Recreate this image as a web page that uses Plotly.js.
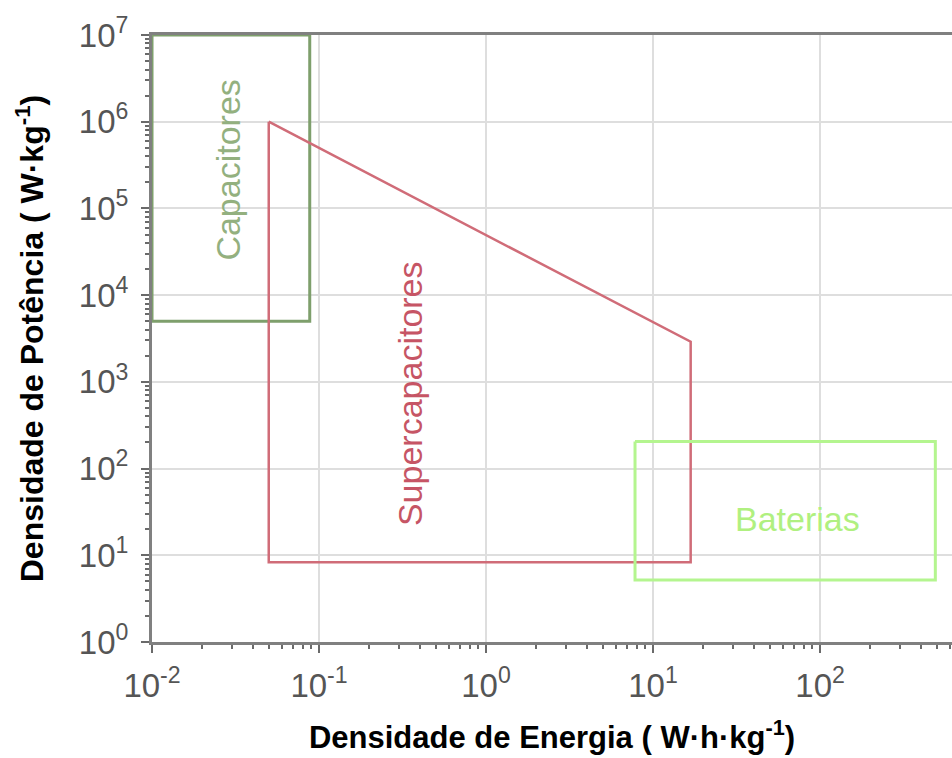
<!DOCTYPE html>
<html><head><meta charset="utf-8">
<script src="https://cdn.plot.ly/plotly-3.0.1.min.js"></script>
<style>html,body{margin:0;padding:0;background:#fff}#chart{width:952px;height:758px}</style>
</head><body><div id="chart"></div>
<script>
// Region outlines (energy density W·h/kg, power density W/kg)
const capX = [0.01, 0.088, 0.088, 0.01, 0.01];
const capY = [1e7, 1e7, 5000, 5000, 1e7];
const supX = [0.05, 16.8, 16.8, 0.05, 0.05];
const supY = [1e6, 2900, 8.3, 8.3, 1e6];
const batX = [7.8, 490, 490, 7.8, 7.8];
const batY = [205, 205, 5.2, 5.2, 205];

const labelNames = ["Capacitores", "Supercapacitores", "Baterias"];
const labelX = [0.0285, 0.35, 73];
const labelY = [2.8e5, 740, 26];

const xTickVals = [0.01, 0.1, 1, 10, 100];
const xTickText = ["10<sup>-2</sup>", "10<sup>-1</sup>", "10<sup>0</sup>", "10<sup>1</sup>", "10<sup>2</sup>"];
const yTickVals = [1, 10, 100, 1000, 1e4, 1e5, 1e6, 1e7];
const yTickText = ["10<sup>0</sup>", "10<sup>1</sup>", "10<sup>2</sup>", "10<sup>3</sup>", "10<sup>4</sup>", "10<sup>5</sup>", "10<sup>6</sup>", "10<sup>7</sup>"];

const colors = ["#7e9f6c", "#d06c78", "#b4f58f"];
const textColors = ["#93b07f", "#c65565", "#b0f080"];

const traces = [
  {x: capX, y: capY, mode: "lines", line: {color: colors[0], width: 3}, hoverinfo: "skip"},
  {x: supX, y: supY, mode: "lines", line: {color: colors[1], width: 2.5}, hoverinfo: "skip"},
  {x: batX, y: batY, mode: "lines", line: {color: colors[2], width: 3}, hoverinfo: "skip"}
];

const annotations = labelNames.map((t, i) => ({
  x: Math.log10(labelX[i]), y: Math.log10(labelY[i]), xref: "x", yref: "y",
  text: t, showarrow: false, textangle: i === 2 ? 0 : -90,
  font: {family: "Liberation Sans, Arial, sans-serif", size: 34, color: textColors[i]}
}));

const axisCommon = {
  type: "log", showline: true, linecolor: "#808080", linewidth: 3,
  showgrid: true, gridcolor: "#dedede", gridwidth: 2,
  ticks: "outside", ticklen: 8, tickwidth: 2, tickcolor: "#6a6a6a",
  tickmode: "array",
  tickfont: {family: "Liberation Sans, Arial, sans-serif", size: 33, color: "#555"},
  minor: {ticks: "outside", ticklen: 4, tickwidth: 2, tickcolor: "#6a6a6a", dtick: "D1", showgrid: false},
  zeroline: false
};

const layout = {
  width: 952, height: 758,
  margin: {l: 152, r: 0, t: 35, b: 116},
  paper_bgcolor: "#fff", plot_bgcolor: "#fff",
  showlegend: false,
  xaxis: Object.assign({}, axisCommon, {
    range: [-2, 2.79], tickvals: xTickVals, ticktext: xTickText, mirror: true,
    ticklabelstandoff: 4,
    title: {text: "Densidade de Energia ( W·h·kg<sup>-1</sup>)", standoff: 24,
      font: {family: "Liberation Sans, Arial, sans-serif", size: 31, color: "#000", weight: "bold"}}
  }),
  yaxis: Object.assign({}, axisCommon, {
    range: [0, 7], tickvals: yTickVals, ticktext: yTickText,
    ticklabelstandoff: 6,
    title: {text: "Densidade de Potência ( W·kg<sup>-1</sup>)", standoff: 26,
      font: {family: "Liberation Sans, Arial, sans-serif", size: 32, color: "#000", weight: "bold"}}
  }),
  annotations: annotations
};

Plotly.newPlot("chart", traces, layout, {displayModeBar: false, staticPlot: true});
</script>
</body></html>
